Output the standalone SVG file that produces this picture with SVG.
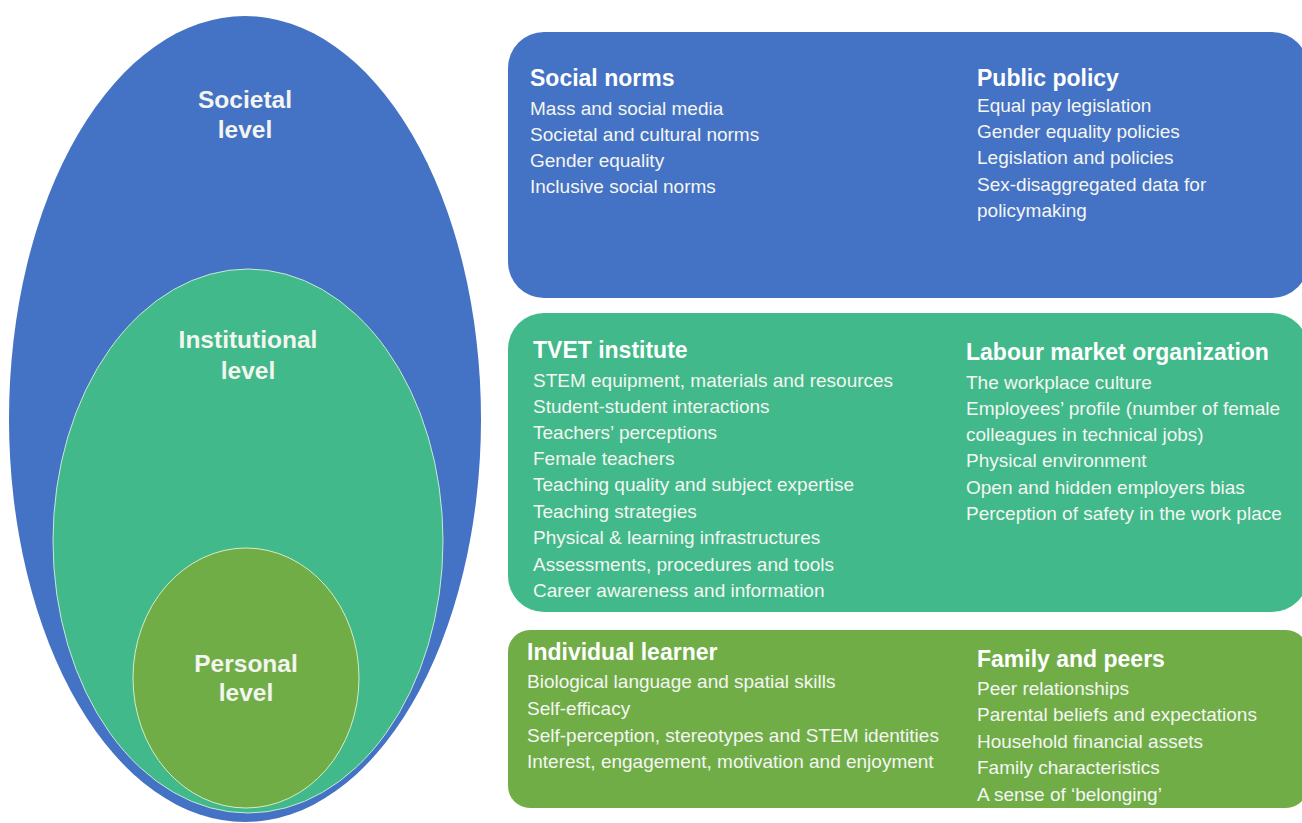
<svg xmlns="http://www.w3.org/2000/svg" width="1302" height="823" viewBox="0 0 1302 823">
<style>
.lvl{font-family:"Liberation Sans",Arial,sans-serif;font-weight:bold;font-size:24.5px;fill:#F3F5EF;text-anchor:middle}
.h{font-family:"Liberation Sans",Arial,sans-serif;font-weight:bold;font-size:23px;fill:#FFFFFF}
.t{font-family:"Liberation Sans",Arial,sans-serif;font-size:19px;fill:#F4F6F2}
</style>
<rect width="1302" height="823" fill="#FFFFFF"/>
<g id="levels">
<g id="societal"><ellipse cx="245" cy="419" rx="236" ry="403" fill="#4472C4"/>
<text class="lvl" x="245" y="108">Societal</text><text class="lvl" x="245" y="138">level</text></g>
<g id="institutional"><ellipse cx="248" cy="541" rx="195" ry="272" fill="#41B98A" stroke="#C8E8D8" stroke-width="1"/>
<text class="lvl" x="248" y="348">Institutional</text><text class="lvl" x="248" y="379">level</text></g>
<g id="personal"><ellipse cx="246" cy="678" rx="113" ry="130" fill="#70AD47" stroke="#D8ECC0" stroke-width="1"/>
<text class="lvl" x="246" y="672">Personal</text><text class="lvl" x="246" y="701">level</text></g>
</g>
<g id="connectors"></g>
<g id="societal-box">
<rect x="508" y="32" width="800" height="266" rx="36" fill="#4472C4"/>
<text class="h" x="530" y="86">Social norms</text>
<text class="t" x="530" y="115">Mass and social media</text>
<text class="t" x="530" y="141">Societal and cultural norms</text>
<text class="t" x="530" y="167">Gender equality</text>
<text class="t" x="530" y="193">Inclusive social norms</text>
<text class="h" x="977" y="86">Public policy</text>
<text class="t" x="977" y="112">Equal pay legislation</text>
<text class="t" x="977" y="138">Gender equality policies</text>
<text class="t" x="977" y="164">Legislation and policies</text>
<text class="t" x="977" y="191">Sex-disaggregated data for</text>
<text class="t" x="977" y="217">policymaking</text>
</g>
<g id="institutional-box">
<rect x="508" y="313" width="800" height="299" rx="36" fill="#41B98A"/>
<text class="h" x="533" y="358">TVET institute</text>
<text class="t" x="533" y="387">STEM equipment, materials and resources</text>
<text class="t" x="533" y="413">Student-student interactions</text>
<text class="t" x="533" y="439">Teachers’ perceptions</text>
<text class="t" x="533" y="465">Female teachers</text>
<text class="t" x="533" y="491">Teaching quality and subject expertise</text>
<text class="t" x="533" y="518">Teaching strategies</text>
<text class="t" x="533" y="544">Physical &amp; learning infrastructures</text>
<text class="t" x="533" y="571">Assessments, procedures and tools</text>
<text class="t" x="533" y="597">Career awareness and information</text>
<text class="h" x="966" y="360">Labour market organization</text>
<text class="t" x="966" y="389">The workplace culture</text>
<text class="t" x="966" y="415">Employees’ profile (number of female</text>
<text class="t" x="966" y="441">colleagues in technical jobs)</text>
<text class="t" x="966" y="467">Physical environment</text>
<text class="t" x="966" y="494">Open and hidden employers bias</text>
<text class="t" x="966" y="520">Perception of safety in the work place</text>
</g>
<g id="personal-box">
<rect x="508" y="630" width="800" height="178" rx="22" fill="#70AD47"/>
<text class="h" x="527" y="660">Individual learner</text>
<text class="t" x="527" y="688">Biological language and spatial skills</text>
<text class="t" x="527" y="715">Self-efficacy</text>
<text class="t" x="527" y="742">Self-perception, stereotypes and STEM identities</text>
<text class="t" x="527" y="768">Interest, engagement, motivation and enjoyment</text>
<text class="h" x="977" y="667">Family and peers</text>
<text class="t" x="977" y="695">Peer relationships</text>
<text class="t" x="977" y="721">Parental beliefs and expectations</text>
<text class="t" x="977" y="748">Household financial assets</text>
<text class="t" x="977" y="774">Family characteristics</text>
<text class="t" x="977" y="801">A sense of ‘belonging’</text>
</g>
</svg>
